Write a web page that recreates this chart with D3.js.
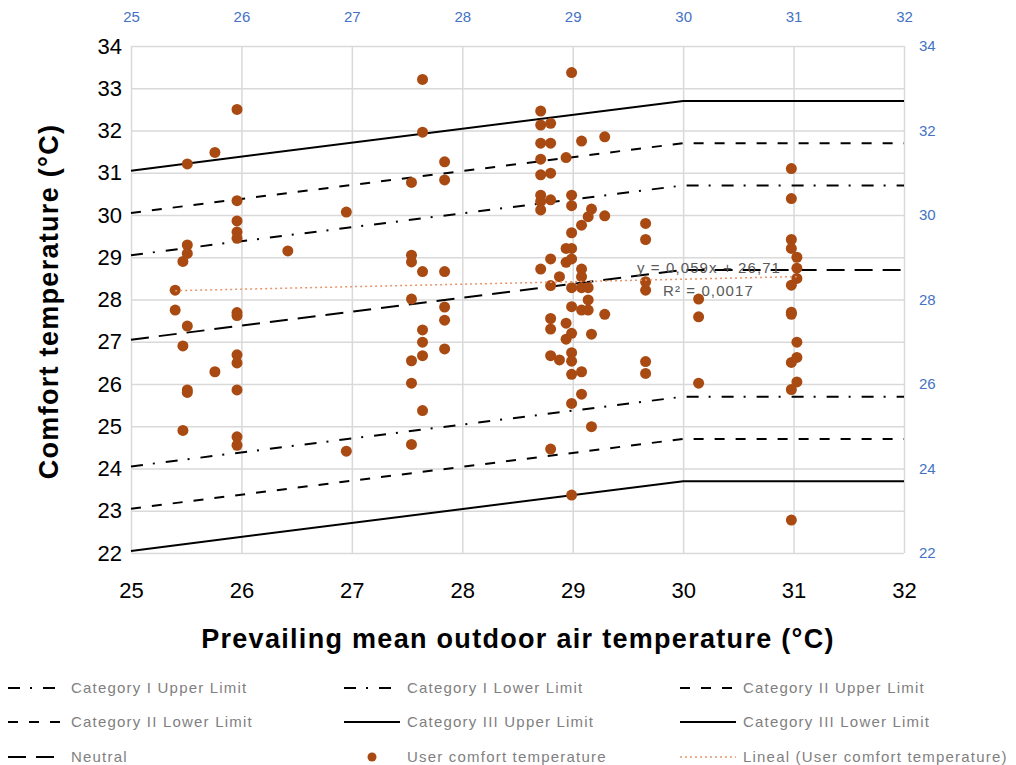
<!DOCTYPE html>
<html>
<head>
<meta charset="utf-8">
<script src="https://cdn.jsdelivr.net/npm/d3@7"></script>
<style>
  body { margin: 0; background: #fff; }
  svg { display: block; font-family: "Liberation Sans", Arial, sans-serif; }
</style>
</head>
<body>
<svg id="chart"></svg>
<script>
// comfort band limits, read at 25, 30 and 32 degrees
const limitX = [25, 30, 32];
const catIUpper = [29.05, 30.7, 30.7];
const catILower = [24.05, 25.7, 25.7];
const catIIUpper = [30.05, 31.7, 31.7];
const catIILower = [23.05, 24.7, 24.7];
const catIIIUpper = [31.05, 32.7, 32.7];
const catIIILower = [22.05, 23.7, 23.7];
const neutral = [27.05, 28.7, 28.7];

// user comfort votes
const userX = [
  25.40, 25.40,
  25.47, 25.47, 25.47,
  25.51, 25.51, 25.51, 25.51, 25.51, 25.51,
  25.76, 25.76,
  25.96, 25.96, 25.96, 25.96, 25.96, 25.96, 25.96, 25.96, 25.96, 25.96, 25.96, 25.96,
  26.42,
  26.95, 26.95,
  27.54, 27.54, 27.54, 27.54, 27.54, 27.54, 27.54,
  27.64, 27.64, 27.64, 27.64, 27.64, 27.64, 27.64,
  27.84, 27.84, 27.84, 27.84, 27.84, 27.84,
  28.71, 28.71, 28.71, 28.71, 28.71, 28.71, 28.71, 28.71, 28.71,
  28.80, 28.80, 28.80, 28.80, 28.80, 28.80, 28.80, 28.80, 28.80, 28.80,
  28.88, 28.88,
  28.94, 28.94, 28.94, 28.94, 28.94,
  28.99, 28.99, 28.99, 28.99, 28.99, 28.99, 28.99, 28.99, 28.99, 28.99, 28.99, 28.99, 28.99, 28.99,
  29.08, 29.08, 29.08, 29.08, 29.08, 29.08, 29.08, 29.08,
  29.14, 29.14, 29.14, 29.14,
  29.17, 29.17, 29.17,
  29.29, 29.29, 29.29,
  29.66, 29.66, 29.66, 29.66, 29.66, 29.66,
  30.14, 30.14, 30.14,
  30.98, 30.98, 30.98, 30.98, 31.03, 31.03, 31.03, 30.98, 30.98, 30.98, 31.03, 31.03, 30.98, 31.03, 30.98, 30.98
];
const userY = [
  28.22, 27.75,
  28.90, 26.90, 24.90,
  31.21, 29.29, 29.09, 27.37, 25.86, 25.80,
  31.48, 26.29,
  32.50, 30.34, 29.86, 29.60, 29.45, 27.69, 27.62, 26.69, 26.50, 25.86, 24.75, 24.55,
  29.15,
  30.07, 24.41,
  30.77, 29.05, 28.89, 28.01, 26.55, 26.02, 24.57,
  33.21, 31.96, 28.66, 27.28, 26.99, 26.67, 25.37,
  31.26, 30.83, 28.66, 27.82, 27.51, 26.83,
  32.46, 32.13, 31.70, 31.32, 30.95, 30.47, 30.32, 30.12, 28.72,
  32.17, 31.70, 30.99, 30.36, 28.96, 28.33, 27.55, 27.30, 26.67, 24.46,
  28.54, 26.57,
  31.36, 29.21, 28.88, 27.44, 27.06,
  33.37, 30.47, 30.22, 29.58, 29.21, 28.96, 28.28, 27.83, 27.20, 26.74, 26.54, 26.23, 25.54, 23.37,
  31.75, 29.76, 28.72, 28.54, 28.28, 27.75, 26.29, 25.76,
  29.96, 28.28, 27.99, 27.75,
  30.14, 27.18, 24.99,
  31.85, 29.98, 27.65,
  29.80, 29.42, 28.42, 28.22, 26.53, 26.25,
  28.01, 27.59, 26.02,
  31.10, 30.39, 29.42, 29.21, 29.00, 28.74, 28.50, 28.34, 27.70, 27.65, 26.99, 26.63, 26.51, 26.05, 25.87, 22.78
];

// linear trendline as printed on the chart
const trendSlope = 0.059;
const trendIntercept = 26.71;
const trendLabels = ["y = 0,059x + 26,71", "R\u00b2 = 0,0017"];

const xTicks = [25, 26, 27, 28, 29, 30, 31, 32];
const yTicks = [22, 23, 24, 25, 26, 27, 28, 29, 30, 31, 32, 33, 34];
const yTicks2 = [22, 24, 26, 28, 30, 32, 34];

const legendItems = [
  "Category I Upper Limit", "Category I Lower Limit", "Category II Upper Limit",
  "Category II Lower Limit", "Category III Upper Limit", "Category III Lower Limit",
  "Neutral", "User comfort temperature", "Lineal (User comfort temperature)"
];

const W = 1016, H = 765;
const mLeft = 131, mRight = 904, mTop = 46, mBottom = 553;
const dotColor = "#a84a12";
const blue = "#4472c4";
const fmt = d3.format("d");

const svg = d3.select("#chart").attr("width", W).attr("height", H);
svg.append("rect").attr("width", W).attr("height", H).attr("fill", "#fff");

const x = d3.scaleLinear().domain([25, 32]).range([mLeft, mRight]);
const y = d3.scaleLinear().domain([22, 34]).range([mBottom, mTop]);

// gridlines
svg.append("g")
  .attr("transform", `translate(0,${mBottom})`)
  .call(d3.axisBottom(x).tickValues(xTicks).tickSize(-(mBottom - mTop)).tickFormat(""))
  .call(g => g.select(".domain").remove())
  .call(g => g.selectAll("line").attr("stroke", "#d9d9d9").attr("stroke-width", 1.5));
svg.append("g")
  .attr("transform", `translate(${mLeft},0)`)
  .call(d3.axisLeft(y).tickValues(yTicks).tickSize(-(mRight - mLeft)).tickFormat(""))
  .call(g => g.select(".domain").remove())
  .call(g => g.selectAll("line").attr("stroke", "#d9d9d9").attr("stroke-width", 1.5));

// tick labels
function styleAxis(g, size, color) {
  g.select(".domain").remove();
  g.selectAll("line").remove();
  g.selectAll("text").attr("font-size", size).attr("fill", color)
    .attr("font-family", "'Liberation Sans', Arial, sans-serif");
}
svg.append("g")
  .attr("transform", `translate(0,${mBottom})`)
  .call(d3.axisBottom(x).tickValues(xTicks).tickFormat(fmt).tickSize(0).tickPadding(29))
  .call(g => styleAxis(g, 22, "#000"));
svg.append("g")
  .attr("transform", `translate(${mLeft},0)`)
  .call(d3.axisLeft(y).tickValues(yTicks).tickFormat(fmt).tickSize(0).tickPadding(9))
  .call(g => styleAxis(g, 22, "#000"));
svg.append("g")
  .attr("transform", `translate(0,${mTop})`)
  .call(d3.axisTop(x).tickValues(xTicks).tickFormat(fmt).tickSize(0).tickPadding(24))
  .call(g => styleAxis(g, 15, blue));
svg.append("g")
  .attr("transform", `translate(${mRight},0)`)
  .call(d3.axisRight(y).tickValues(yTicks2).tickFormat(fmt).tickSize(0).tickPadding(15))
  .call(g => styleAxis(g, 15, blue));

// comfort lines
const lineStyles = [
  { vals: catIUpper, dash: "12,10,2,11" },
  { vals: catILower, dash: "12,10,2,11" },
  { vals: catIIUpper, dash: "10,11" },
  { vals: catIILower, dash: "10,11" },
  { vals: catIIIUpper, dash: null },
  { vals: catIIILower, dash: null },
  { vals: neutral, dash: "18,10" }
];
const line = d3.line().x(d => x(d[0])).y(d => y(d[1]));
lineStyles.forEach(s => {
  svg.append("path")
    .attr("d", line(limitX.map((v, i) => [v, s.vals[i]])))
    .attr("fill", "none")
    .attr("stroke", "#000")
    .attr("stroke-width", 2)
    .attr("stroke-dasharray", s.dash);
});

// points
svg.append("g").selectAll("circle")
  .data(userX.map((v, i) => [v, userY[i]]))
  .enter()
  .append("circle")
  .attr("cx", d => x(d[0]))
  .attr("cy", d => y(d[1]))
  .attr("r", 5.5)
  .attr("fill", dotColor);

// trendline
const tx = d3.extent(userX);
svg.append("path")
  .attr("d", line(tx.map(v => [v, trendSlope * v + trendIntercept])))
  .attr("fill", "none")
  .attr("stroke", "#e8956a")
  .attr("stroke-width", 1.5)
  .attr("stroke-dasharray", "2,3");

svg.append("text").attr("x", 637).attr("y", 273)
  .attr("font-size", 15).attr("letter-spacing", 1.1).attr("fill", "#595959")
  .text(trendLabels[0]);
svg.append("text").attr("x", 663).attr("y", 296)
  .attr("font-size", 15).attr("letter-spacing", 1.1).attr("fill", "#595959")
  .text(trendLabels[1]);

// axis titles
svg.append("text")
  .attr("transform", `translate(58,${(mTop + mBottom) / 2 + 2}) rotate(-90)`)
  .attr("text-anchor", "middle")
  .attr("font-size", 27).attr("letter-spacing", 1.3)
  .attr("font-weight", "bold").attr("fill", "#000")
  .text("Comfort temperature (\u00b0C)");
svg.append("text")
  .attr("x", 518).attr("y", 648)
  .attr("text-anchor", "middle")
  .attr("font-size", 27).attr("letter-spacing", 1.3)
  .attr("font-weight", "bold").attr("fill", "#000")
  .text("Prevailing mean outdoor air temperature (\u00b0C)");

// legend
const legendCols = [8, 344, 680];
const legendRows = [688, 722, 757];
const legendDash = ["12,10,2,11", "12,10,2,11", "10,11", "10,11", null, null, "18,10"];
const legend = svg.append("g");
legendItems.forEach((name, i) => {
  const lx = legendCols[i % 3], ly = legendRows[Math.floor(i / 3)];
  if (i < 7) {
    legend.append("line")
      .attr("x1", lx).attr("x2", lx + 56).attr("y1", ly).attr("y2", ly)
      .attr("stroke", "#000").attr("stroke-width", 2)
      .attr("stroke-dasharray", legendDash[i]);
  } else if (i === 7) {
    legend.append("circle").attr("cx", lx + 28).attr("cy", ly).attr("r", 4.5).attr("fill", dotColor);
  } else {
    legend.append("line")
      .attr("x1", lx).attr("x2", lx + 56).attr("y1", ly).attr("y2", ly)
      .attr("stroke", "#e8956a").attr("stroke-width", 1.5).attr("stroke-dasharray", "2,3");
  }
  legend.append("text")
    .attr("x", lx + 63).attr("y", ly + 5)
    .attr("font-size", 15).attr("letter-spacing", 1.2).attr("fill", "#7f7f7f")
    .text(name);
});
</script>
</body>
</html>
